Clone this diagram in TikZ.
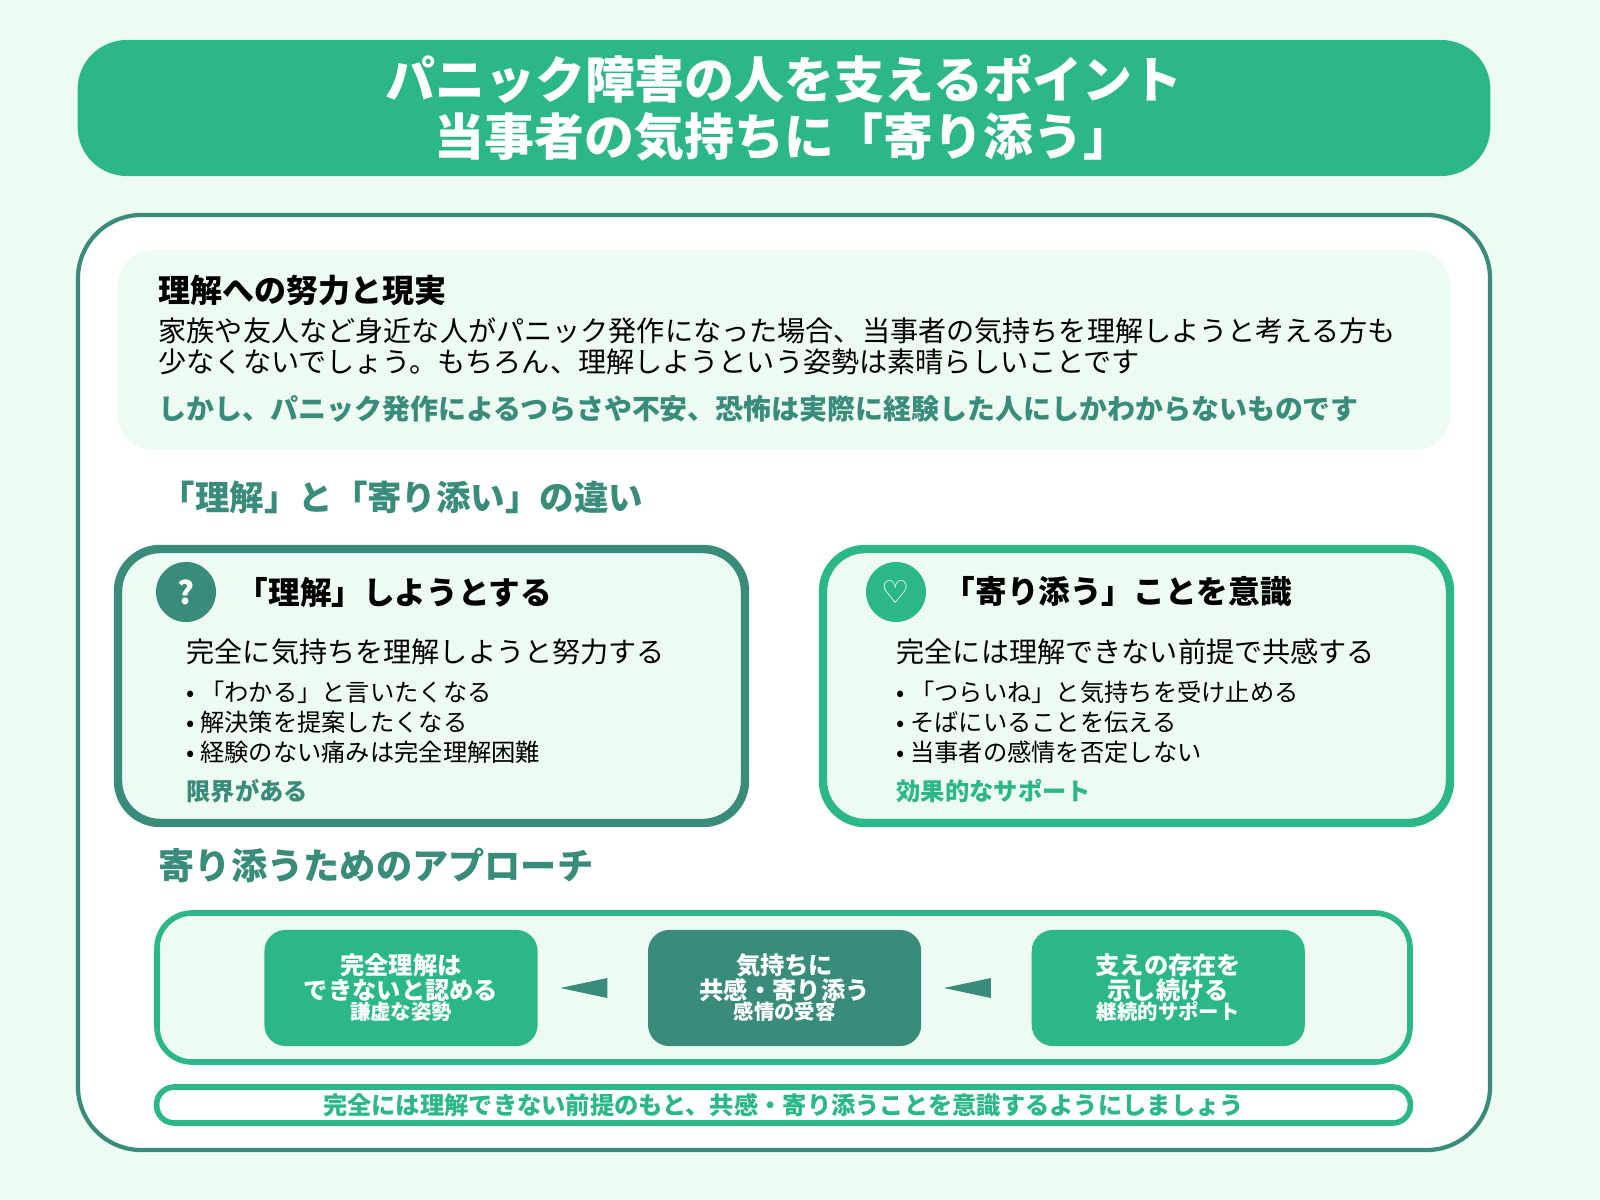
\documentclass[tikz,border=0pt]{standalone}
\usepackage{fontspec}
\setmainfont{Noto Sans CJK JP}
\newfontfamily\symfont{DejaVu Sans}
\usetikzlibrary{positioning,calc}
\definecolor{mint}{HTML}{2BB78A}
\definecolor{teal}{HTML}{3A8C7A}
\definecolor{pale}{HTML}{EEFBF3}
\newcommand{\fs}[1]{\fontsize{#1}{#1}\selectfont}
\tikzset{
  txt/.style = {inner sep=0pt, anchor=west},
  card/.style = {line width=2.4pt, fill=pale, rounded corners=12pt},
  stepnode/.style = {inner sep=0pt, rounded corners=6pt, text=white,
    font=\bfseries\fs{6.9pt}, align=center, minimum width=27.3mm, minimum height=11.6mm},
  badge/.style = {circle, minimum size=6mm, inner sep=0pt, text=white, font=\bfseries\fs{9pt}},
  bullet/.style = {txt, font=\fs{6.9pt}},
  wedge/.style = {fill=teal}
}
\begin{document}
\begin{tikzpicture}[x=0.01cm,y=-0.01cm]
  \fill[pale] (0,0) rectangle (1600,1200);
  % title banner
  \node (title) [fill=mint, rounded corners=14pt, minimum width=141.2mm, minimum height=13.6mm,
    text=white, font=\bfseries\fs{14.2pt}, align=center] at (784,108)
    {パニック障害の人を支えるポイント\\[2pt]当事者の気持ちに「寄り添う」};
  % main frame
  \draw[draw=teal, line width=1.2pt, fill=white, rounded corners=18pt] (78,215) rectangle (1490,1150);
  % intro panel
  \fill[pale, rounded corners=10pt] (118,250) rectangle (1450,450);
  \node (introhead) [txt, font=\bfseries\fs{9.1pt}] at (158,290) {理解への努力と現実};
  \node (introa) [txt, font=\fs{8pt}] at (158,331) {家族や友人など身近な人がパニック発作になった場合、当事者の気持ちを理解しようと考える方も};
  \node (introb) [txt, font=\fs{8pt}] at (158,362) {少なくないでしょう。もちろん、理解しようという姿勢は素晴らしいことです};
  \node (introc) [txt, font=\bfseries\fs{7.95pt}, text=teal] at (158,409) {しかし、パニック発作によるつらさや不安、恐怖は実際に経験した人にしかわからないものです};
  \node (diffhead) [txt, font=\bfseries\fs{9.8pt}, text=teal] at (160,497) {「理解」と「寄り添い」の違い};
  % left card
  \draw[card, draw=teal] (118,549) rectangle (745,823);
  \node (qbadge) [badge, fill=teal] at (186,592) {\itshape ?};
  \node (lhead) [txt, font=\bfseries\fs{9pt}] at (236,592) {「理解」しようとする};
  \node (lline) [txt, font=\fs{8pt}] at (186,652) {完全に気持ちを理解しようと努力する};
  \node (lb1) [bullet] at (186,692) {• 「わかる」と言いたくなる};
  \node (lb2) [bullet] at (186,722) {• 解決策を提案したくなる};
  \node (lb3) [bullet] at (186,752) {• 経験のない痛みは完全理解困難};
  \node (lnote) [txt, font=\bfseries\fs{6.9pt}, text=teal] at (186,791) {限界がある};
  % right card
  \draw[card, draw=mint] (823,549) rectangle (1450,823);
  \node (hbadge) [badge, fill=mint] at (896,592) {\symfont ♡};
  \node (rhead) [txt, font=\bfseries\fs{9pt}] at (943,592) {「寄り添う」ことを意識};
  \node (rline) [txt, font=\fs{8pt}] at (896,652) {完全には理解できない前提で共感する};
  \node (rb1) [bullet] at (896,692) {• 「つらいね」と気持ちを受け止める};
  \node (rb2) [bullet] at (896,722) {• そばにいることを伝える};
  \node (rb3) [bullet] at (896,752) {• 当事者の感情を否定しない};
  \node (rnote) [txt, font=\bfseries\fs{6.9pt}, text=mint] at (896,791) {効果的なサポート};
  % approach
  \node (apphead) [txt, font=\bfseries\fs{10.3pt}, text=teal] at (158,866) {寄り添うためのアプローチ};
  \draw[card, draw=mint, line width=1.6pt, rounded corners=10pt] (157,913) rectangle (1410,1062);
  \node (accept) [stepnode, fill=mint] at (401,988)
    {完全理解は\\できないと認める\\[-1pt]{\fs{5.8pt}謙虚な姿勢}};
  \node (empathy) [stepnode, fill=teal, right=1.09cm of accept]
    {気持ちに\\共感・寄り添う\\[-1pt]{\fs{5.8pt}感情の受容}};
  \node (exist) [stepnode, fill=mint, right=1.09cm of empathy]
    {支えの存在を\\示し続ける\\[-1pt]{\fs{5.8pt}継続的サポート}};
  \foreach \a/\b in {accept/empathy, empathy/exist}{
    \coordinate (tip) at ($(\a.east)+(22,0)$);
    \coordinate (back) at ($(\b.west)-(40,0)$);
    \fill[wedge] (tip) -- ($(back)+(0,-10)$) -- ($(back)+(0,10)$) -- cycle;
  }
  % closing line
  \node (closing) [draw=mint, line width=1.6pt, fill=white, rounded corners=5pt, minimum width=125.3mm,
    minimum height=3.6mm, text=mint, font=\bfseries\fs{6.9pt}, inner sep=0pt] at (783.5,1105)
    {完全には理解できない前提のもと、共感・寄り添うことを意識するようにしましょう};
  \pgfresetboundingbox
  \useasboundingbox (0,0) rectangle (1600,1200);
\end{tikzpicture}
\end{document}
